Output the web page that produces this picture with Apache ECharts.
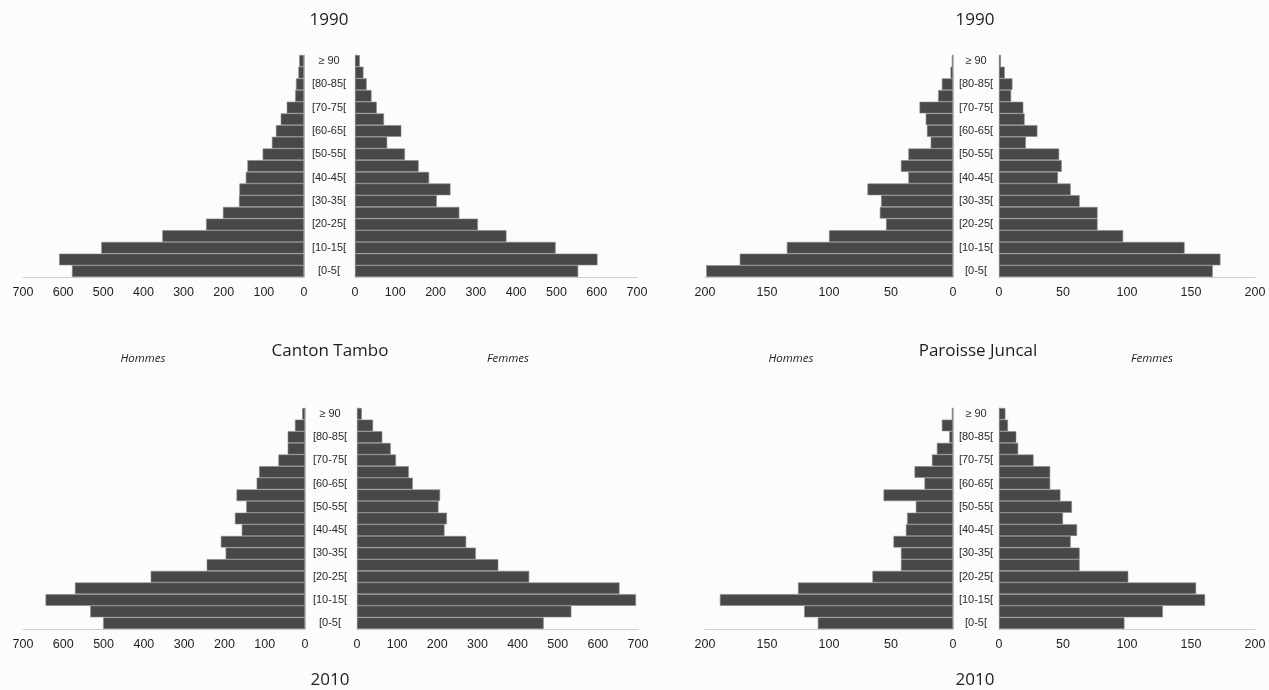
<!DOCTYPE html>
<html>
<head>
<meta charset="utf-8">
<title>Pyramides des âges — Canton Tambo et Paroisse Juncal</title>
<script src="https://cdn.jsdelivr.net/npm/echarts@6/dist/echarts.min.js"></script>
<style>
  html, body { margin: 0; padding: 0; background: #fcfcfc; }
  #chart { width: 1269px; height: 690px; }
</style>
</head>
<body>
<div id="chart"></div>
<script>
// Age groups, from youngest (bottom) to oldest (top)
const ageGroups = ['[0-5[', '[5-10[', '[10-15[', '[15-20[', '[20-25[', '[25-30[', '[30-35[', '[35-40[',
  '[40-45[', '[45-50[', '[50-55[', '[55-60[', '[60-65[', '[65-70[', '[70-75[', '[75-80[',
  '[80-85[', '[85-90[', '≥ 90'];

// Canton Tambo, 1990
const tambo1990Hommes = [578, 610, 505, 353, 244, 202, 162, 161, 145, 141, 103, 80, 70, 58, 43, 22, 20, 14, 12];
const tambo1990Femmes = [554, 602, 498, 376, 305, 259, 203, 237, 184, 158, 124, 80, 115, 72, 54, 41, 29, 21, 12];
// Paroisse Juncal, 1990
const juncal1990Hommes = [199, 172, 134, 100, 54, 59, 58, 69, 36, 42, 36, 18, 21, 22, 27, 12, 9, 2, 1];
const juncal1990Femmes = [167, 173, 145, 97, 77, 77, 63, 56, 46, 49, 47, 21, 30, 20, 19, 9.5, 10.5, 4.5, 1.5];
// Canton Tambo, 2010
const tambo2010Hommes = [501, 533, 644, 571, 383, 244, 197, 209, 157, 174, 146, 170, 120, 114, 66, 43, 43, 25, 7];
const tambo2010Femmes = [465, 534, 695, 654, 429, 352, 296, 272, 218, 224, 203, 207, 139, 129, 97, 84, 63, 40, 12];
// Paroisse Juncal, 2010
const juncal2010Hommes = [109, 120, 188, 125, 65, 42, 42, 48, 38, 37, 30, 56, 23, 31, 17, 13, 3, 9, 1];
const juncal2010Femmes = [98, 128, 161, 154, 101, 63, 63, 56, 61, 50, 57, 48, 40, 40, 27, 15, 13.5, 7, 5];

// Axis scales
const tamboMax = 700, tamboStep = 100;
const juncalMax = 200, juncalStep = 50;

// Panel layout (pixels): half-pyramids, Hommes on the left of each pair, Femmes on the right
const rowTop = [55, 408];
const rowHeight = [222, 221];
const panels = [
  { left: 23,  row: 0, width: 281, side: 'H', max: tamboMax,  step: tamboStep,  data: tambo1990Hommes },
  { left: 355, row: 0, width: 282, side: 'F', max: tamboMax,  step: tamboStep,  data: tambo1990Femmes, labelMargin: 26 },
  { left: 705, row: 0, width: 248, side: 'H', max: juncalMax, step: juncalStep, data: juncal1990Hommes },
  { left: 999, row: 0, width: 256, side: 'F', max: juncalMax, step: juncalStep, data: juncal1990Femmes, labelMargin: 23 },
  { left: 23,  row: 1, width: 282, side: 'H', max: tamboMax,  step: tamboStep,  data: tambo2010Hommes },
  { left: 357, row: 1, width: 281, side: 'F', max: tamboMax,  step: tamboStep,  data: tambo2010Femmes, labelMargin: 27 },
  { left: 705, row: 1, width: 248, side: 'H', max: juncalMax, step: juncalStep, data: juncal2010Hommes },
  { left: 999, row: 1, width: 256, side: 'F', max: juncalMax, step: juncalStep, data: juncal2010Femmes, labelMargin: 23 }
];

const axisFont = "'Liberation Sans', Arial, sans-serif";
const titleFont = "'Open Sans', Lato, sans-serif";

const grid = [], xAxis = [], yAxis = [], series = [];
panels.forEach((p, i) => {
  grid.push({ left: p.left, top: rowTop[p.row], width: p.width, height: rowHeight[p.row], containLabel: false });
  xAxis.push({
    type: 'value', gridIndex: i, min: 0, max: p.max, interval: p.step,
    inverse: p.side === 'H',
    axisLine: { show: true, lineStyle: { color: '#cfcfcf', width: 1 } },
    axisTick: { show: false },
    splitLine: { show: false },
    axisLabel: { color: '#1e1e1e', fontFamily: axisFont, fontSize: 12.5, margin: 9 }
  });
  yAxis.push({
    type: 'category', gridIndex: i, data: ageGroups,
    position: p.side === 'H' ? 'right' : 'left',
    axisLine: { show: true, onZero: false, lineStyle: { color: '#bdbdbd', width: 1 } },
    axisTick: { show: false },
    axisLabel: p.side === 'F'
      ? { show: true, interval: 1, align: 'center', margin: p.labelMargin, color: '#2a2a2a', fontFamily: axisFont, fontSize: 11 }
      : { show: false }
  });
  series.push({
    type: 'bar', xAxisIndex: i, yAxisIndex: i, data: p.data,
    barWidth: '100%',
    itemStyle: { color: '#484848', borderColor: '#8a8a8a', borderWidth: 0.6 },
    silent: true
  });
});

// Titles and side labels
function txt(x, y, text, size, style) {
  return {
    type: 'text', x: x, y: y,
    style: {
      text: text, fill: '#1e1e1e', font: (style || 'normal') + ' ' + size + 'px ' + titleFont,
      textAlign: 'center', textVerticalAlign: 'middle'
    }
  };
}
const graphic = [
  txt(329, 20, '1990', 17),
  txt(975, 20, '1990', 17),
  txt(330, 351, 'Canton Tambo', 17),
  txt(978, 351, 'Paroisse Juncal', 17),
  txt(143, 359, 'Hommes', 11.5, 'italic'),
  txt(508, 359, 'Femmes', 11.5, 'italic'),
  txt(791, 359, 'Hommes', 11.5, 'italic'),
  txt(1152, 359, 'Femmes', 11.5, 'italic'),
  txt(330, 680, '2010', 17),
  txt(975, 680, '2010', 17)
];

const chart = echarts.init(document.getElementById('chart'), null, { renderer: 'canvas' });
chart.setOption({
  backgroundColor: '#fcfcfc',
  animation: false,
  grid, xAxis, yAxis, series, graphic
});
</script>
</body>
</html>
